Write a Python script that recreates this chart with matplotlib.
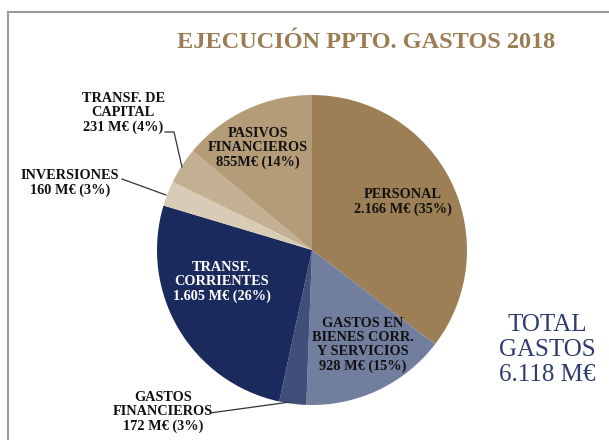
import matplotlib.pyplot as plt
from matplotlib.lines import Line2D

# datos (M€)
labels = ['PERSONAL\n2.166 M€ (35%)',
          'GASTOS EN\nBIENES CORR.\nY SERVICIOS\n928 M€ (15%)',
          'GASTOS\nFINANCIEROS\n172 M€ (3%)',
          'TRANSF.\nCORRIENTES\n1.605 M€ (26%)',
          'INVERSIONES\n160 M€ (3%)',
          'TRANSF. DE\nCAPITAL\n231 M€ (4%)',
          'PASIVOS\nFINANCIEROS\n855M€ (14%)']
values = [2166, 928, 172, 1605, 160, 231, 855]
colors = ['#9C7F55', '#717E9E', '#3F4F7A', '#1B2A5C', '#D9CCB6', '#C3AF92', '#B49C78']
total_text = 'TOTAL\nGASTOS\n6.118 M€'
title = 'EJECUCIÓN PPTO. GASTOS 2018'

W, H = 609, 440
fig = plt.figure(figsize=(W / 100, H / 100), dpi=100)
ax = fig.add_axes([0, 0, 1, 1])

cx, cy, r = 312, H - 250, 155
ax.pie(values, colors=colors, startangle=90, counterclock=False,
       center=(cx, cy), radius=r, frame=True,
       wedgeprops=dict(linewidth=0))
ax.set_xlim(0, W)
ax.set_ylim(0, H)
ax.axis('off')

font = dict(family='Liberation Serif', fontweight='bold', fontsize=10.3,
            ha='center', va='center', linespacing=1.12)

def y(p):
    return H - p

# etiquetas dentro
ax.text(403, y(202), labels[0], color='#111111', **font)
ax.text(363, y(345), labels[1], color='#111111', **font)
ax.text(222, y(282), labels[3], color='white', **font)
ax.text(258, y(148), labels[6], color='#111111', **font)

# etiquetas fuera con lineas
lc = '#333333'
ax.text(163, y(412), labels[2], color='#111111', **font)
ax.plot([210, 290], [y(413), y(402)], color=lc, lw=0.9)
ax.text(70, y(183), labels[4], color='#111111', **font)
ax.plot([122, 166], [y(179), y(195)], color=lc, lw=0.9)
ax.text(123, y(113), labels[5], color='#111111', **font)
ax.plot([165, 174, 182], [y(132), y(132), y(167)], color=lc, lw=0.9)

# titulo y total
ax.text(366, y(42), title, color='#9A7D52', family='Liberation Serif',
        fontweight='bold', fontsize=17.5, ha='center', va='center')
ax.text(547, y(350), total_text, color='#2E3C6E', family='Liberation Serif',
        fontsize=18, ha='center', va='center', linespacing=1.2)

# marco
fig.add_artist(Line2D([8 / W, 8 / W], [0, 1 - 12 / H], color='#999999', lw=1.5,
                      transform=fig.transFigure))
fig.add_artist(Line2D([8 / W, 1], [1 - 12 / H, 1 - 12 / H], color='#999999', lw=1.5,
                      transform=fig.transFigure))

fig.savefig('out.png', dpi=100)
